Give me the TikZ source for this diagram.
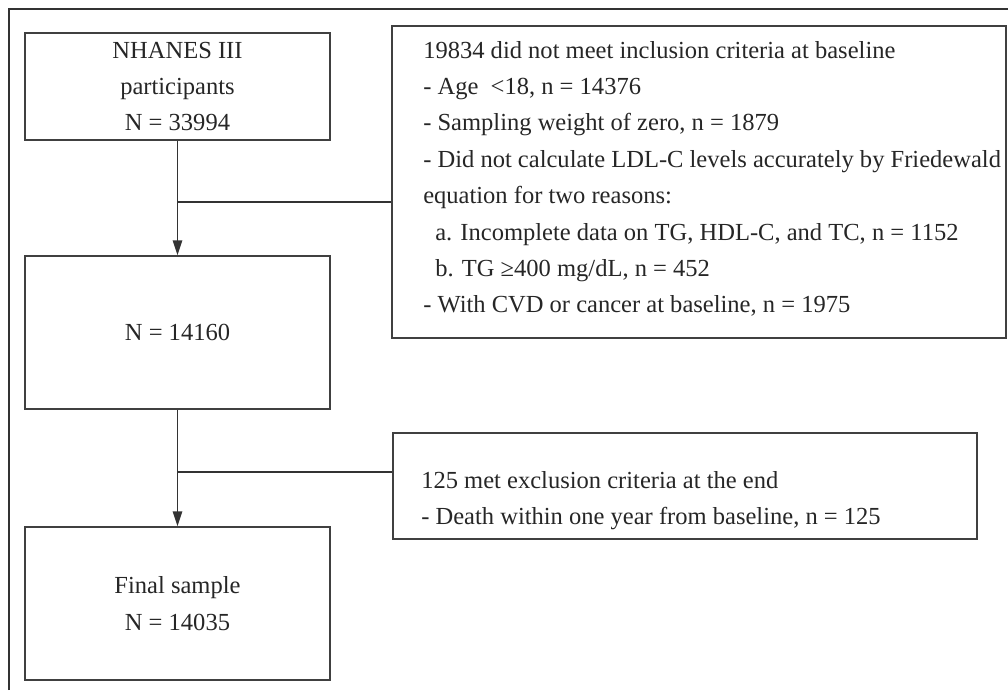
\documentclass[tikz,border=0pt]{standalone}
\usepackage{fontspec}
\setmainfont{Liberation Serif}
\usetikzlibrary{arrows.meta}
\begin{document}
\begin{tikzpicture}[x=0.75pt,y=-0.75pt,
  every node/.style={font=\fontsize{18.4}{27.3}\selectfont, text=black!85},
  box/.style={draw=black!75, line width=1.3pt, inner sep=0pt},
  cbox/.style={box, align=center},
  txt/.style={inner sep=0pt, align=flush left, text width=600pt},
  flow/.style={draw=black!80, line width=1.2pt},
  arr/.style={flow, -{Triangle[length=11pt,width=7pt]}}]
\useasboundingbox (0,0) rectangle (1008,690);
% outer frame (top and left sides only visible)
\draw[black!80, line width=1.4pt] (9,690) -- (9,9) -- (1008,9);
% left column
\node[cbox, minimum width=228.75pt, minimum height=80.25pt] (b1) at (177.5,86.5)
  {NHANES III\\participants\\N = 33994};
\node[cbox, minimum width=228.75pt, minimum height=114.75pt] (b2) at (177.5,332.5)
  {N = 14160};
\node[cbox, minimum width=228.75pt, minimum height=114.75pt] (b3) at (177.5,603.5)
  {Final sample\\N = 14035};
% exclusion boxes
\node[box, minimum width=460.5pt, minimum height=234pt] (r1) at (699,182) {};
\node[box, minimum width=438pt, minimum height=79.5pt] (r2) at (685,486) {};
\node[txt, anchor=base west] (t1) at (423,58)
  {19834 did not meet inclusion criteria at baseline\\
   - Age\ \ {<}18, n = 14376\\
   - Sampling weight of zero, n = 1879\\
   - Did not calculate LDL-C levels accurately by Friedewald\\
   equation for two reasons:\\
   \hspace*{9pt}a. Incomplete data on TG, HDL-C, and TC, n = 1152\\
   \hspace*{9pt}b. TG ≥400 mg/dL, n = 452\\
   - With CVD or cancer at baseline, n = 1975};
\node[txt, anchor=base west] (t2) at (421,488)
  {125 met exclusion criteria at the end\\
   - Death within one year from baseline, n = 125};
% connectors
\coordinate (j1) at (b1.south |- 0,202);
\coordinate (j2) at (b2.south |- 0,472);
\draw[arr] (b1.south) -- (b2.north);
\draw[flow] (j1) -- (j1 -| r1.west);
\draw[arr] (b2.south) -- (b3.north);
\draw[flow] (j2) -- (j2 -| r2.west);
\end{tikzpicture}
\end{document}
